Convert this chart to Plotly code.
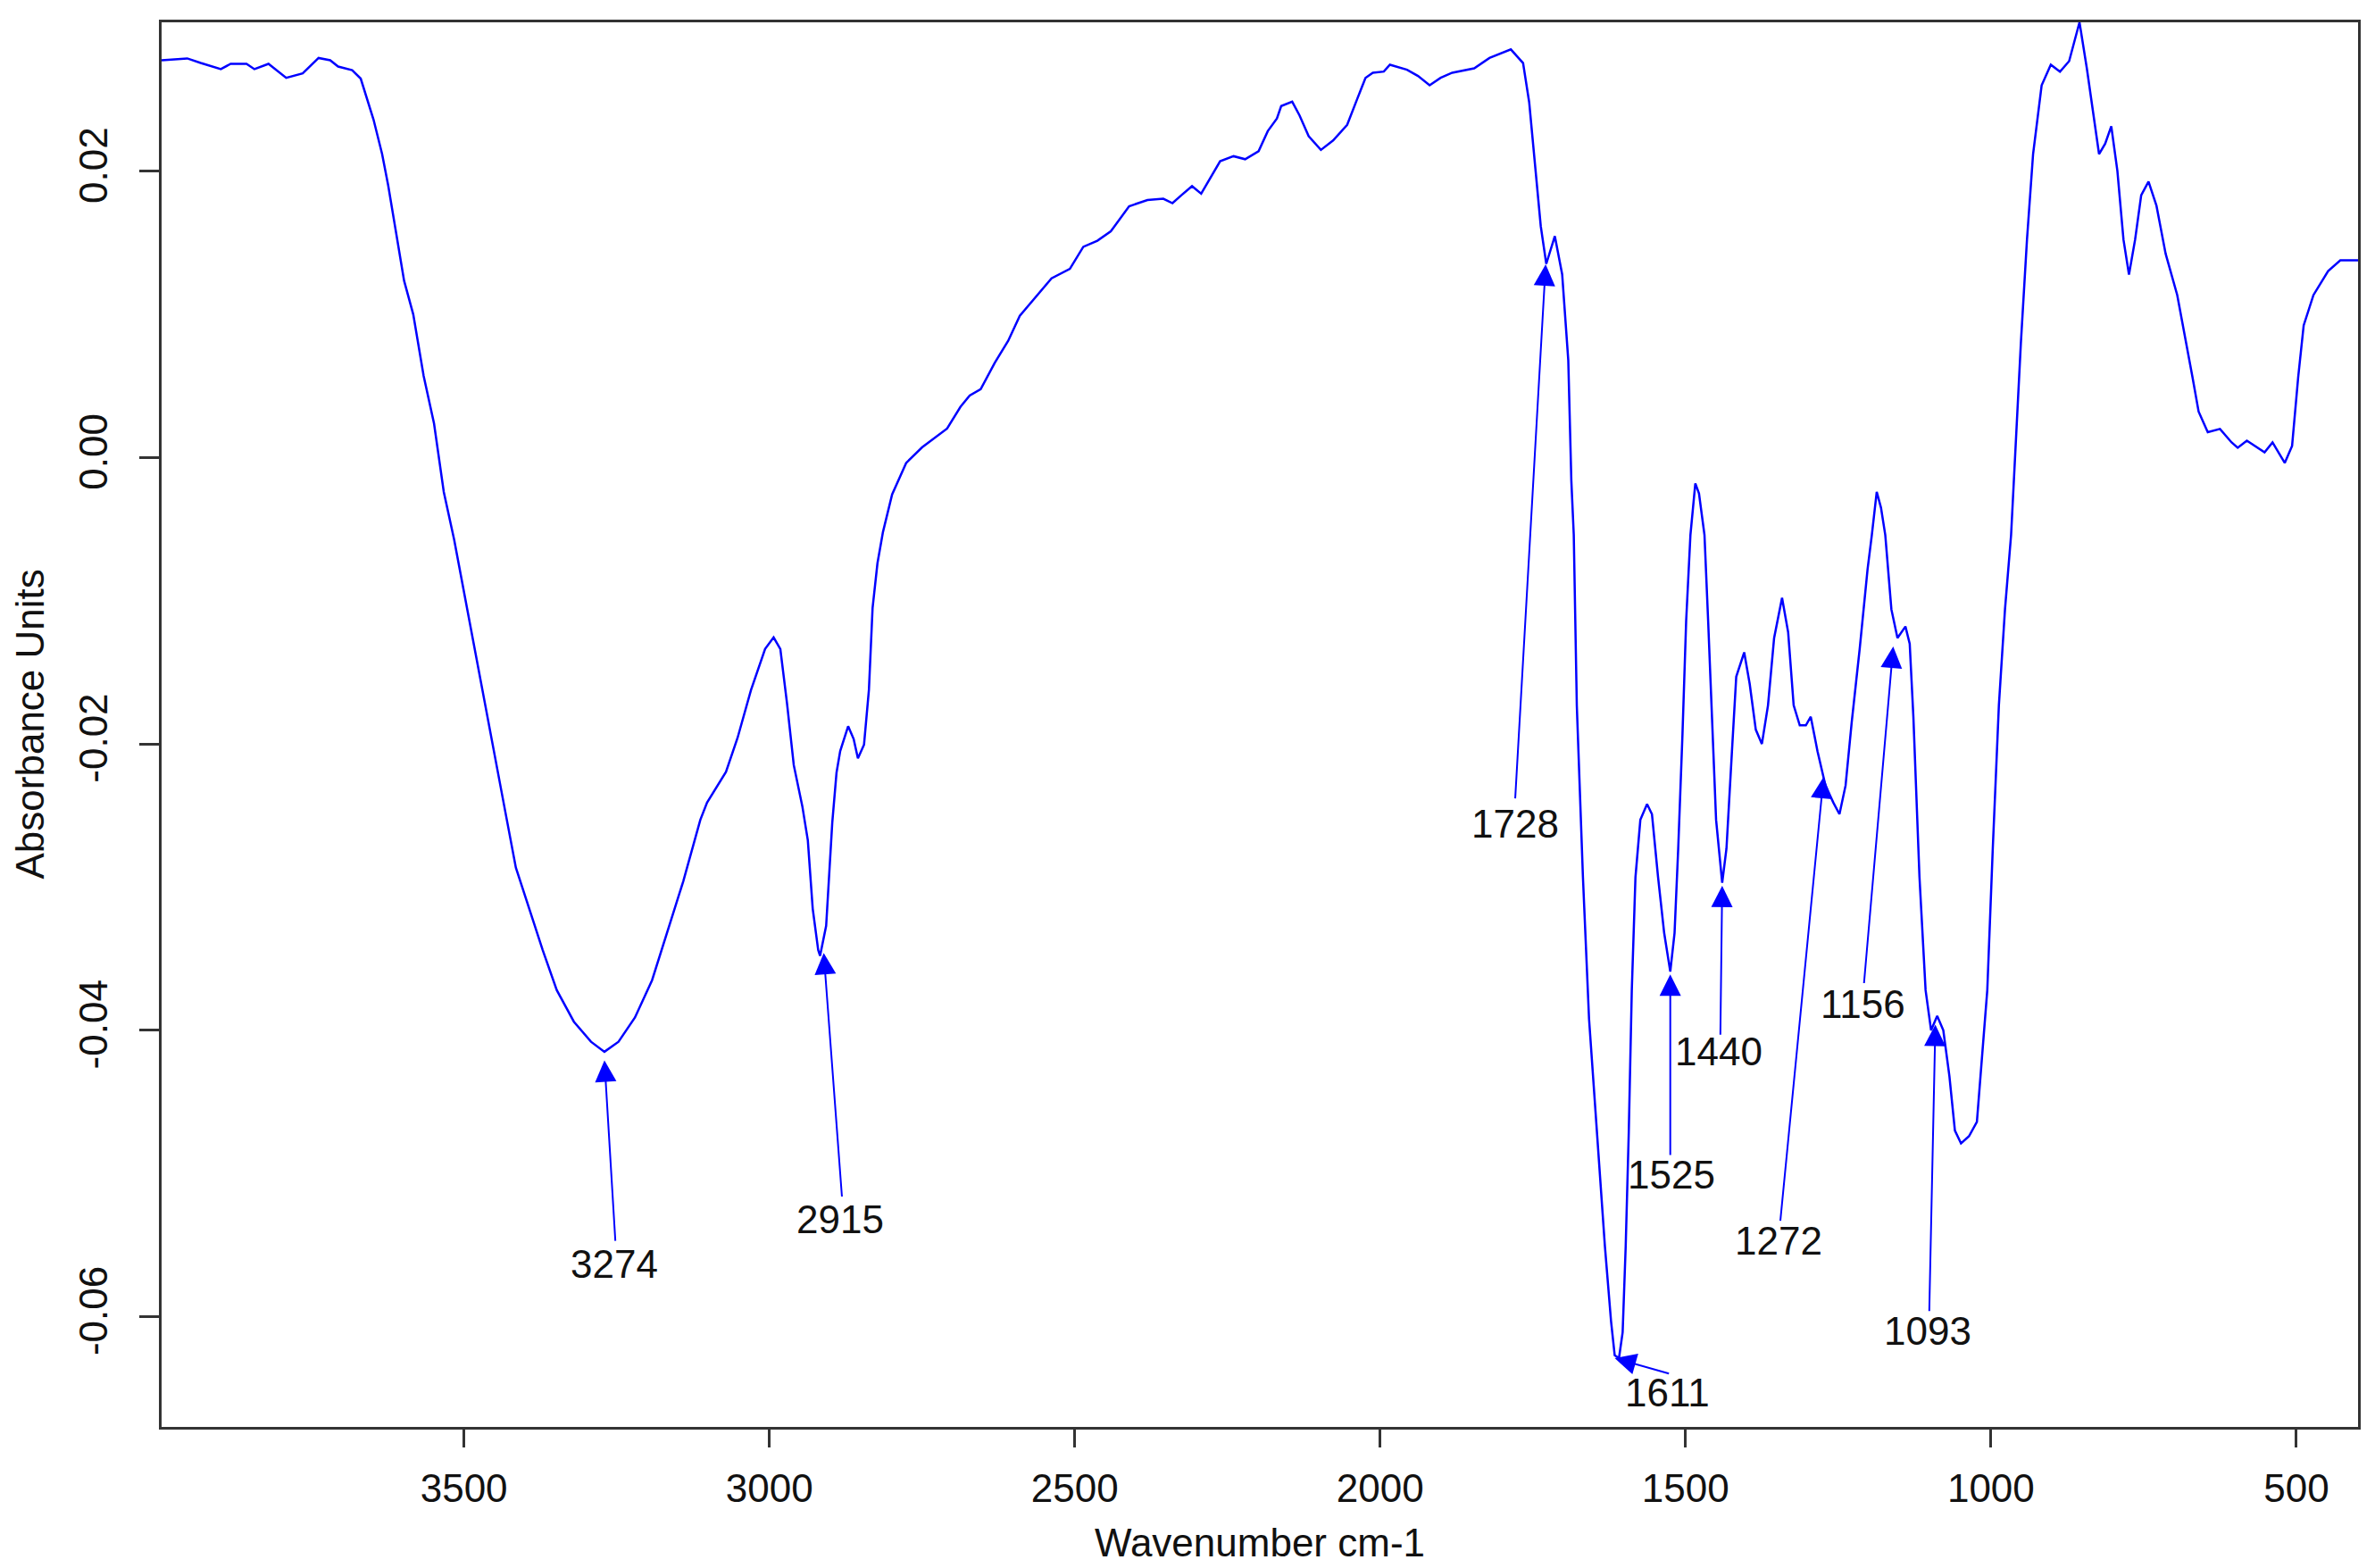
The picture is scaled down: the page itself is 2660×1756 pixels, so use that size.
import plotly.graph_objects as go

# ---- spectrum data ----
wavenumber = [
    3995, 3953, 3931, 3898, 3882, 3856, 3843, 3820, 3791, 3764, 3738, 3719, 3706, 3683, 3669,
    3648, 3634, 3624, 3611, 3598, 3583, 3566, 3549, 3533, 3516, 3499, 3482, 3466, 3449, 3432,
    3415, 3393, 3371, 3348, 3320, 3292, 3270, 3247, 3220, 3192, 3169, 3141, 3113, 3102, 3071,
    3052, 3030, 3007, 2993, 2982, 2971, 2960, 2946, 2937, 2929, 2920, 2917, 2907, 2897, 2890,
    2884, 2871, 2862, 2855, 2845, 2837, 2831, 2823, 2814, 2799, 2776, 2750, 2709, 2687, 2672,
    2654, 2631, 2609, 2590, 2564, 2538, 2508, 2486, 2463, 2441, 2411, 2381, 2355, 2340, 2325,
    2308, 2293, 2281, 2262, 2240, 2221, 2199, 2184, 2169, 2162, 2144, 2132, 2117, 2097, 2077,
    2054, 2038, 2024, 2012, 1994, 1984, 1956, 1938, 1919, 1901, 1882, 1846, 1821, 1786, 1766,
    1756, 1747, 1737, 1728, 1721, 1714, 1702, 1692, 1687, 1683, 1678, 1668, 1658, 1645, 1632,
    1622, 1616, 1609, 1603, 1598, 1593, 1588, 1582, 1574, 1563, 1555, 1545, 1535, 1525, 1518,
    1512, 1505, 1499, 1492, 1484, 1478, 1469, 1463, 1456, 1450, 1440, 1433, 1424, 1417, 1404,
    1395, 1385, 1375, 1365, 1355, 1342, 1332, 1323, 1313, 1303, 1295, 1284, 1271, 1258, 1248,
    1238, 1228, 1215, 1202, 1195, 1187, 1180, 1173, 1163, 1153, 1140, 1133, 1127, 1117, 1107,
    1098, 1088, 1078, 1068, 1059, 1049, 1036, 1023, 1013, 1006, 997, 987, 977, 967, 951,
    941, 931, 917, 902, 887, 872, 855, 843, 833, 823, 813, 803, 793, 783, 774,
    764, 754, 742, 729, 714, 695, 680, 670, 660, 645, 625, 606, 596, 581, 552,
    539, 519, 507, 497, 488, 472, 457, 448, 428, 399,
]
absorbance = [
    0.02775, 0.02788, 0.02756, 0.02713, 0.02750, 0.02750, 0.02713, 0.02750, 0.02652, 0.02683, 0.02791, 0.02775, 0.02731, 0.02706, 0.02647,
    0.02360, 0.02120, 0.01900, 0.01568, 0.01235, 0.01000, 0.00570, 0.00238, -0.00240, -0.00574, -0.00955, -0.01337, -0.01719, -0.02100, -0.02480,
    -0.02864, -0.03150, -0.03440, -0.03720, -0.03940, -0.04080, -0.04150, -0.04080, -0.03910, -0.03650, -0.03340, -0.02960, -0.02530, -0.02410, -0.02195,
    -0.01957, -0.01623, -0.01337, -0.01256, -0.01337, -0.01719, -0.02148, -0.02435, -0.02673, -0.03150, -0.03440, -0.03480, -0.03270, -0.02550, -0.02200,
    -0.02050, -0.01876, -0.01965, -0.02100, -0.02005, -0.01623, -0.01051, -0.00738, -0.00520, -0.00257, -0.00037, 0.00071, 0.00203, 0.00355, 0.00434,
    0.00478, 0.00662, 0.00815, 0.00990, 0.01121, 0.01252, 0.01318, 0.01472, 0.01515, 0.01580, 0.01755, 0.01799, 0.01808, 0.01777, 0.01834,
    0.01896, 0.01843, 0.01930, 0.02070, 0.02105, 0.02084, 0.02140, 0.02280, 0.02368, 0.02455, 0.02486, 0.02390, 0.02245, 0.02149, 0.02215,
    0.02324, 0.02500, 0.02652, 0.02688, 0.02696, 0.02744, 0.02709, 0.02665, 0.02600, 0.02652, 0.02688, 0.02719, 0.02791, 0.02851, 0.02756,
    0.02482, 0.02048, 0.01615, 0.01353, 0.01450, 0.01547, 0.01280, 0.00680, -0.00160, -0.00540, -0.01734, -0.02930, -0.03920, -0.04720, -0.05510,
    -0.06030, -0.06270, -0.06290, -0.06110, -0.05510, -0.04720, -0.03720, -0.02930, -0.02530, -0.02420, -0.02490, -0.02930, -0.03320, -0.03590, -0.03320,
    -0.02730, -0.01930, -0.01140, -0.00540, -0.00180, -0.00250, -0.00540, -0.01140, -0.01930, -0.02530, -0.02970, -0.02730, -0.02050, -0.01530, -0.01360,
    -0.01580, -0.01900, -0.02000, -0.01730, -0.01260, -0.00980, -0.01220, -0.01730, -0.01870, -0.01870, -0.01810, -0.02050, -0.02290, -0.02410, -0.02490,
    -0.02290, -0.01850, -0.01340, -0.00780, -0.00540, -0.00240, -0.00350, -0.00540, -0.01060, -0.01260, -0.01180, -0.01300, -0.01810, -0.02930, -0.03720,
    -0.04000, -0.03900, -0.04000, -0.04320, -0.04700, -0.04790, -0.04740, -0.04640, -0.04120, -0.03720, -0.02730, -0.01730, -0.01060, -0.00540, 0.00800,
    0.01522, 0.02120, 0.02600, 0.02744, 0.02695, 0.02769, 0.03040, 0.02719, 0.02407, 0.02120, 0.02192, 0.02314, 0.02002, 0.01522, 0.01278,
    0.01522, 0.01833, 0.01927, 0.01759, 0.01424, 0.01135, 0.00800, 0.00561, 0.00321, 0.00177, 0.00200, 0.00106, 0.00069, 0.00118, 0.00037,
    0.00106, -0.00037, 0.00081, 0.00561, 0.00923, 0.01135, 0.01235, 0.01303, 0.01378, 0.01378,
]

# ---- peak annotations ----
peak_labels = ["3274", "2915", "1728", "1611", "1525", "1440", "1272", "1156", "1093"]
peak_x      = [3270, 2911, 1729, 1616, 1525, 1440, 1274, 1160, 1091]
peak_y      = [-0.0421, -0.0346, 0.0135, -0.0629, -0.0361, -0.0299, -0.0223, -0.0132, -0.0396]
tail_x      = [3252, 2881, 1779, 1525, 1525, 1443, 1345, 1208, 1101]
tail_y      = [-0.0548, -0.0517, -0.0239, -0.0640, -0.0488, -0.0404, -0.0534, -0.0368, -0.0597]
label_x     = [3254, 2884, 1779, 1529, 1523, 1445, 1347, 1210, 1103]
label_y     = [-0.0563, -0.0532, -0.0256, -0.0653, -0.0501, -0.0415, -0.0547, -0.0382, -0.0610]

# ---- axes ----
x_ticks = [3500, 3000, 2500, 2000, 1500, 1000, 500]
x_ticktext = ["3500", "3000", "2500", "2000", "1500", "1000", "500"]
y_ticks = [-0.06, -0.04, -0.02, 0.00, 0.02]
y_ticktext = ["-0.06", "-0.04", "-0.02", "0.00", "0.02"]
x_range = [3995, 399]
y_range = [-0.0677, 0.0304]

FONT = "Liberation Sans, Arial, sans-serif"
BLUE = "#0000ff"
AXC = "#333333"

fig = go.Figure()
fig.add_trace(go.Scatter(x=wavenumber, y=absorbance, mode="lines",
                         line=dict(color=BLUE, width=2.5), showlegend=False,
                         hoverinfo="skip"))

for lab, px, py, tx, ty, lx, ly in zip(peak_labels, peak_x, peak_y, tail_x, tail_y, label_x, label_y):
    fig.add_annotation(x=px, y=py, ax=tx, ay=ty, xref="x", yref="y", axref="x", ayref="y",
                       text="", showarrow=True, arrowhead=2, arrowsize=2.4, arrowwidth=2,
                       arrowcolor=BLUE, standoff=0)
    fig.add_annotation(x=lx, y=ly, xref="x", yref="y", text=lab, showarrow=False,
                       font=dict(family=FONT, size=44, color="#111111"),
                       xanchor="center", yanchor="middle")

# axis titles
fig.add_annotation(x=0.5, y=0, xref="paper", yref="paper", yshift=-129,
                   text="Wavenumber cm-1", showarrow=False, xanchor="center", yanchor="middle",
                   font=dict(family=FONT, size=44, color="#111111"))
fig.add_annotation(x=0, y=0.5, xref="paper", yref="paper", xshift=-148,
                   text="Absorbance Units", showarrow=False, textangle=-90,
                   xanchor="center", yanchor="middle",
                   font=dict(family=FONT, size=44, color="#111111"))

fig.update_layout(
    width=2660, height=1756,
    margin=dict(l=181, r=19, t=25, b=158),
    plot_bgcolor="white", paper_bgcolor="white",
    font=dict(family=FONT, size=44, color="#111111"),
    xaxis=dict(range=x_range, tickvals=x_ticks, ticktext=x_ticktext,
               showgrid=False, zeroline=False, showline=True, mirror=True,
               linecolor=AXC, linewidth=3, ticks="outside", ticklen=20,
               tickwidth=3, tickcolor=AXC, ticklabelstandoff=8,
               tickfont=dict(family=FONT, size=44, color="#111111")),
    yaxis=dict(range=y_range, tickvals=y_ticks, ticktext=y_ticktext,
               showgrid=False, zeroline=False, showline=True, mirror=True,
               linecolor=AXC, linewidth=3, ticks="outside", ticklen=22,
               tickwidth=3, tickcolor=AXC, tickangle=-90, ticklabelstandoff=18,
               tickfont=dict(family=FONT, size=44, color="#111111")),
)

fig.write_html("out.html", config={"displayModeBar": False},
               post_script="document.body.style.margin='0';document.body.style.overflow='hidden';")
